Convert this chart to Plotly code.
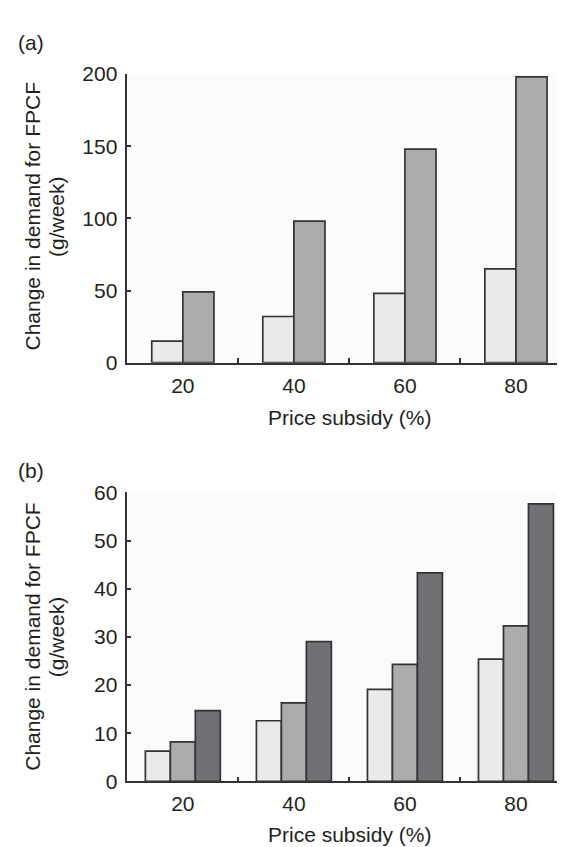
import plotly.graph_objects as go

# ---- data ----
subsidy = ["20", "40", "60", "80"]
a_series1 = [15, 32, 48, 65]
a_series2 = [49, 98, 148, 198]
b_series1 = [6.3, 12.6, 19.1, 25.4]
b_series2 = [8.2, 16.3, 24.3, 32.3]
b_series3 = [14.7, 29.0, 43.3, 57.6]

light = "#e9eaea"
mid = "#aaacae"
dark = "#707174"
edge = "#333333"
txt = "#231f20"
font_family = "Liberation Sans, Arial, sans-serif"
fs = 21

fig = go.Figure()

def add_bar(y, color, xa, ya, offset, width):
    fig.add_trace(go.Bar(
        x=subsidy, y=y, xaxis=xa, yaxis=ya,
        marker=dict(color=color, line=dict(color=edge, width=1.7)),
        offset=offset, width=width, showlegend=False,
    ))

wa = 0.28
add_bar(a_series1, light, "x", "y", -wa, wa)
add_bar(a_series2, mid, "x", "y", 0, wa)

wb = 0.225
add_bar(b_series1, light, "x2", "y2", -1.5 * wb, wb)
add_bar(b_series2, mid, "x2", "y2", -0.5 * wb, wb)
add_bar(b_series3, dark, "x2", "y2", 0.5 * wb, wb)

xd = [0.2112, 0.9973]
common_x = dict(
    type="category", showline=True, linecolor=edge, linewidth=1.5,
    ticks="inside", tickson="boundaries", ticklen=5, tickwidth=1.5, tickcolor=edge,
    showgrid=False, zeroline=False, range=[-0.5, 3.5], ticklabelstandoff=3,
    tickfont=dict(size=fs, color=txt, family=font_family),
)
common_y = dict(
    showline=True, linecolor=edge, linewidth=1.5,
    ticks="inside", ticklen=4, tickwidth=1.5, tickcolor=edge,
    showgrid=False, zeroline=False, ticklabelstandoff=4,
    tickfont=dict(size=fs, color=txt, family=font_family),
)

fig.update_layout(
    width=565, height=847,
    margin=dict(l=0, r=0, t=0, b=0),
    paper_bgcolor="white",
    plot_bgcolor="#fbfbfb",
    barmode="overlay",
    font=dict(family=font_family, size=fs, color=txt),
    xaxis=dict(domain=xd, anchor="y", **common_x),
    yaxis=dict(domain=[0.5841, 0.9345], anchor="x", range=[0, 200],
               tickvals=[0, 50, 100, 150, 200], **common_y),
    xaxis2=dict(domain=xd, anchor="y2", **common_x),
    yaxis2=dict(domain=[0.0759, 0.4268], anchor="x2", range=[0, 60],
                tickvals=[0, 10, 20, 30, 40, 50, 60], **common_y),
)

ann = []
def text(x, y, s, angle=0):
    ann.append(dict(x=x / 565, y=1 - y / 847, xref="paper", yref="paper", text=s,
                    showarrow=False, textangle=angle, xanchor="center", yanchor="middle",
                    font=dict(size=fs, color=txt, family=font_family)))

for yc in (202, 634):
    text(25, yc, "Change in demand for FPCF", -90)
    text(48.5, yc, "(g/week)", -90)
text(341, 409, "Price subsidy (%)")
text(341, 837, "Price subsidy (%)")
text(23, 23, "(a)")
text(23, 463, "(b)")
fig.update_layout(annotations=ann)

fig.write_html("out.html")
